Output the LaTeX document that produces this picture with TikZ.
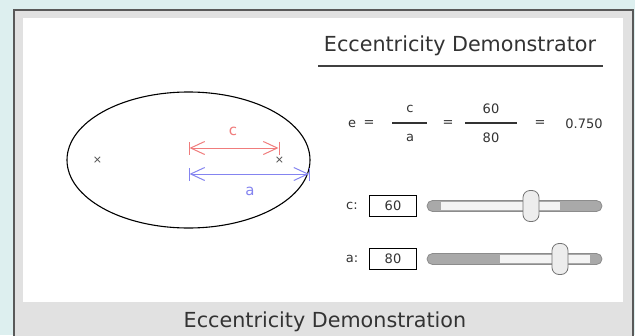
\documentclass[tikz,border=0pt]{standalone}
\usepackage{fontspec}
\setmainfont{DejaVu Sans}
\usetikzlibrary{calc,arrows.meta}
\usetikzlibrary{positioning}
\definecolor{bgteal}{HTML}{DDEFEF}
\definecolor{framegray}{HTML}{E1E1E1}
\definecolor{txtgray}{HTML}{333333}
\definecolor{redline}{HTML}{F07C7C}
\definecolor{blueline}{HTML}{8484F0}
\definecolor{trackdark}{HTML}{A9A9A9}
\definecolor{tracklight}{HTML}{F4F4F4}

\begin{document}
\begin{tikzpicture}[x=1pt, y=-1pt,
    bigtxt/.style={text=txtgray, font=\fontsize{20.7}{24}\selectfont},
    smalltxt/.style={text=txtgray, font=\fontsize{13}{15}\selectfont, inner sep=1pt},
    valbox/.style={draw=black, line width=1pt, minimum width=47pt, minimum height=21pt, inner sep=0pt, text=txtgray, font=\fontsize{13}{15}\selectfont},
    focus/.style={text=black!70, font=\fontsize{11}{12}\selectfont, inner sep=0pt},
    dimarrow/.style={line width=1pt, {Bar[width=13pt].Straight Barb[length=14pt,width=13pt]}-{Straight Barb[length=14pt,width=13pt].Bar[width=13pt]}},
    fracbar/.style={line width=1.3pt, txtgray}
]
    \clip (0,0) rectangle (635,335);
    \fill[bgteal] (0,0) rectangle (635,335);
    \draw[fill=framegray, draw=black!65, line width=1.6pt] (14,10) rectangle (633,345);
    \fill[white] (23,18) rectangle (623,302);

    % ellipse and its foci
    \def\cx{188.5}
    \def\ra{121.5}
    \def\rc{91}
    \coordinate (ctr) at (\cx,160);
    \draw[line width=1.1pt] (ctr) ellipse [x radius=\ra, y radius=68];
    \node[focus] (f1) at (\cx-\rc,160) {×};
    \node[focus] (f2) at (\cx+\rc,160) {×};

    \coordinate (cS) at (\cx,148);
    \coordinate (cE) at (\cx+\rc,148);
    \coordinate (aS) at (\cx,174);
    \coordinate (aE) at (\cx+\ra,174);
    \draw[dimarrow, redline] (cS) -- (cE);
    \draw[dimarrow, blueline] (aS) -- (aE);
    \node[text=redline, font=\fontsize{15}{18}\selectfont] (clbl) at (233,131) {c};
    \node[text=blueline, font=\fontsize{15}{18}\selectfont] (albl) at (250,191) {a};

    % title
    \node[bigtxt] (title) at (460,46) {Eccentricity Demonstrator};
    \draw[line width=1.3pt, black!75] (318,66) -- (603,66);

    % formula
    \node[smalltxt] (e) at (352,124) {e};
    \node[smalltxt] (eq1) at (369,124) {=};
    \node[smalltxt] (fc) at (410,109) {c};
    \node[smalltxt] (fa) at (410,138) {a};
    \draw[fracbar] (392,123) -- (427,123);
    \node[smalltxt] (eq2) at (448,124) {=};
    \node[smalltxt] (n60) at (491,109) {60};
    \node[smalltxt] (n80) at (491,138) {80};
    \draw[fracbar] (465,123) -- (517,123);
    \node[smalltxt] (eq3) at (540,124) {=};
    \node[smalltxt] (res) at (584,124) {0.750};

    % sliders
    \foreach \lbl/\val/\y/\thx/\da/\db in {c/60/206/531/441/560, a/80/259/560/500/590} {
        \node[smalltxt] (l\lbl) at (352,\y) {\lbl:};
        \node[valbox] (b\lbl) at (393,\y) {\val};
        \fill[trackdark, rounded corners=5.5pt] (427,\y-5.5) rectangle (602,\y+5.5);
        \fill[tracklight] (\da,\y-4) rectangle (\db,\y+4);
        \draw[black!45, line width=0.8pt, rounded corners=5.5pt] (427,\y-5.5) rectangle (602,\y+5.5);
        \draw[fill=black!7, draw=black!55, line width=0.8pt, rounded corners=7pt] (\thx-8,\y-15.5) rectangle (\thx+8,\y+15.5);
    }

    \node[bigtxt] (footer) at (325,322) {Eccentricity Demonstration};
\end{tikzpicture}
\end{document}
